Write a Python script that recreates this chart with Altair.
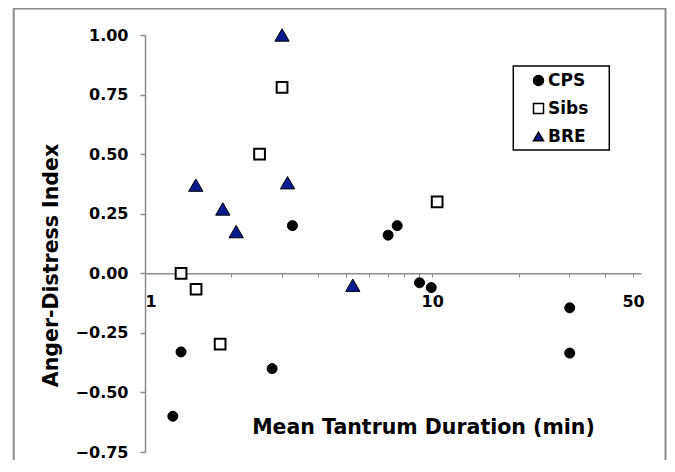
import altair as alt
import pandas as pd

# ---- data ----
cps_x = [1.25, 1.335, 2.77, 3.26, 7.02, 7.55, 9.03, 9.92, 30.1, 30.1]
cps_y = [-0.60, -0.33, -0.40, 0.20, 0.16, 0.20, -0.04, -0.06, -0.145, -0.335]

sibs_x = [1.335, 1.506, 1.826, 2.505, 3.0, 10.4]
sibs_y = [0.00, -0.067, -0.297, 0.50, 0.78, 0.30]

bre_x = [3.0, 1.503, 1.866, 2.077, 3.135, 5.29]
bre_y = [1.00, 0.37, 0.27, 0.175, 0.38, -0.05]

groups = ["CPS", "Sibs", "BRE"]
shapes = ["circle", "square", "triangle-up"]
fills = ["#000000", "#ffffff", "#0a1a8f"]
strokes = ["#000000", "#000000", "#000000"]
sizes = [100, 115, 205]
stroke_widths = [1, 2, 1]

x_ticks = [1, 2, 3, 4, 5, 6, 7, 8, 9, 10, 20, 30, 40, 50]
y_ticks = [-0.75, -0.5, -0.25, 0, 0.25, 0.5, 0.75, 1.0]

series = [("CPS", cps_x, cps_y), ("Sibs", sibs_x, sibs_y), ("BRE", bre_x, bre_y)]

FONT = "DejaVu Sans"
W, H = 496, 417
GRAY = "#8c8c8c"

x_enc = alt.X("x:Q",
              scale=alt.Scale(type="log", domain=[1, 53.3], nice=False, zero=False),
              axis=alt.Axis(values=x_ticks, title="Mean Tantrum Duration (min)",
                            labelExpr="(datum.value == 1 || datum.value == 10 || datum.value == 50) ? format(datum.value, 'd') : ''",
                            offset=-178.7, grid=False, domainColor=GRAY, domainWidth=1.5,
                            tickColor=GRAY, tickSize=4, tickWidth=1,
                            labelFont=FONT, labelFontSize=16, labelFontWeight="bold", labelColor="black",
                            labelPadding=16, labelAngle=0,
                            labelAlign=alt.condition("datum.value == 1", alt.value("left"), alt.value("center")),
                            titleFont=FONT, titleFontSize=20.5, titleFontWeight="bold", titleColor="black",
                            titleX=278, titleY=160, titleBaseline="alphabetic", titleAlign="center"))
y_enc = alt.Y("y:Q",
              scale=alt.Scale(domain=[-0.75, 1.0], nice=False, zero=False),
              axis=alt.Axis(values=y_ticks, format=".2f", title="Anger-Distress Index",
                            grid=False, domainColor=GRAY, domainWidth=1.5,
                            tickColor=GRAY, tickSize=5, tickWidth=1.5,
                            labelFont=FONT, labelFontSize=16, labelFontWeight="bold", labelColor="black",
                            labelPadding=12,
                            titleFont=FONT, titleFontSize=20.5, titleFontWeight="bold", titleColor="black",
                            titleAngle=270, titleX=-88, titleY=230, titleAlign="center",
                            titleBaseline="alphabetic"))

legend = alt.Legend(orient="none", legendX=385, legendY=37, padding=0,
                    labelFont=FONT, labelFontSize=17, labelFontWeight="bold",
                    labelColor="black", labelOffset=1, rowPadding=10,
                    symbolSize=100, symbolStrokeWidth=1.5)

layers = []
for i, (name, xs, ys) in enumerate(series):
    d = pd.DataFrame({"x": xs, "y": ys, "group": [name] * len(xs)})
    layers.append(
        alt.Chart(d).mark_point(filled=True, opacity=1,
                                size=sizes[i], strokeWidth=stroke_widths[i]).encode(
            x=x_enc, y=y_enc,
            shape=alt.Shape("group:N", scale=alt.Scale(domain=groups, range=shapes),
                            title=None, legend=legend),
            fill=alt.Fill("group:N", scale=alt.Scale(domain=groups, range=fills),
                          title=None, legend=legend),
            stroke=alt.Stroke("group:N", scale=alt.Scale(domain=groups, range=strokes),
                              title=None, legend=legend),
        )
    )

frame_df = pd.DataFrame({"k": [0]})
outer_frame = alt.Chart(frame_df).mark_rect(fill=None, stroke=GRAY, strokeWidth=2, clip=False).encode(
    x=alt.value(-131.3), x2=alt.value(520.5), y=alt.value(-26.5), y2=alt.value(460)
)
legend_frame = alt.Chart(frame_df).mark_rect(fill=None, stroke="black", strokeWidth=1.5, clip=False).encode(
    x=alt.value(368.3), x2=alt.value(464.3), y=alt.value(31), y2=alt.value(115)
)

chart = alt.layer(outer_frame, legend_frame, *layers).properties(
    width=W, height=H,
    autosize=alt.AutoSizeParams(type="none"),
    padding={"left": 137, "top": 27, "right": 26, "bottom": 8},
).configure_view(stroke=None)

chart.save("out.html", embed_options={"renderer": "svg", "actions": False})
